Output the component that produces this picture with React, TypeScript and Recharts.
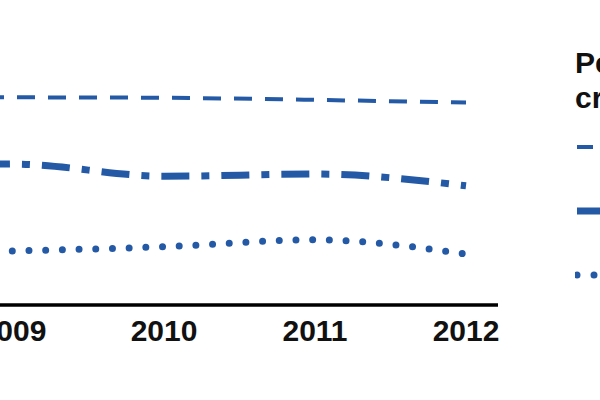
import { LineChart, Line, XAxis, YAxis } from 'recharts';

const years = ['2008', '2009', '2010', '2011', '2012'];
const dashedSeries = [39.4, 39.2, 39.1, 38.7, 38.2];
const dashDotSeries = [25.8, 26.6, 24.3, 24.7, 22.5];
const dottedSeries = [9.8, 10.2, 11.0, 12.3, 9.6];

const BLUE = '#2459a6';
const FONT = '"Liberation Sans", Arial, sans-serif';

const data = years.map((y, i) => ({
  year: y,
  a: dashedSeries[i],
  b: dashDotSeries[i],
  c: dottedSeries[i],
}));

const legendItems = [
  { key: 'a', label: 'All crimes', x2: 18, width: 4, dash: undefined as string | undefined, cap: 'butt' },
  { key: 'b', label: 'Violent crimes', x2: 40, width: 7, dash: undefined, cap: 'butt' },
  { key: 'c', label: 'Property crimes', x2: 40, width: 7, dash: '0 17', cap: 'round' },
];

// legend sits to the right of the plot, mostly outside the 600px frame
function LegendBox() {
  return (
    <div style={{ position: 'absolute', left: 575, top: 45, fontFamily: FONT, whiteSpace: 'nowrap', color: '#111' }}>
      <div style={{ fontWeight: 700, fontSize: 30, lineHeight: '35px' }}>
        Percent of
        <br />
        crimes reported
      </div>
      {legendItems.map(it => (
        <div key={it.key} style={{ height: 64, display: 'flex', alignItems: 'center' }}>
          <svg width={44} height={64} style={{ display: 'block' }}>
            <line
              x1={2}
              x2={it.x2}
              y1={32}
              y2={32}
              stroke={BLUE}
              strokeWidth={it.width}
              strokeDasharray={it.dash}
              strokeLinecap={it.cap as 'butt' | 'round'}
            />
          </svg>
          <span style={{ fontSize: 28, fontWeight: 700, marginLeft: 8 }}>{it.label}</span>
        </div>
      ))}
    </div>
  );
}

export default function App() {
  return (
    <div style={{ position: 'fixed', left: 0, top: 0, width: 600, height: 400, overflow: 'hidden', background: '#fff' }}>
      <div style={{ position: 'absolute', left: -200, top: 0 }}>
        <LineChart width={900} height={400} data={data} margin={{ top: 40, right: 202, left: 22, bottom: 35 }}>
          <XAxis
            dataKey="year"
            axisLine={{ stroke: '#000', strokeWidth: 3.5 }}
            tickLine={false}
            tickMargin={9}
            height={60}
            padding={{ left: 40, right: 32 }}
            tick={{ fill: '#111', fontSize: 30, fontWeight: 700, fontFamily: FONT }}
          />
          <YAxis hide width={0} domain={[0, 50]} />
          <Line type="monotone" dataKey="a" stroke={BLUE} strokeWidth={4} strokeDasharray="18 13" dot={false} isAnimationActive={false} />
          <Line type="monotone" dataKey="b" stroke={BLUE} strokeWidth={7} strokeDasharray="28 12 8 12" dot={false} isAnimationActive={false} />
          <Line type="monotone" dataKey="c" stroke={BLUE} strokeWidth={7} strokeDasharray="0 16.7" strokeLinecap="round" dot={false} isAnimationActive={false} />
        </LineChart>
      </div>
      <LegendBox />
    </div>
  );
}
